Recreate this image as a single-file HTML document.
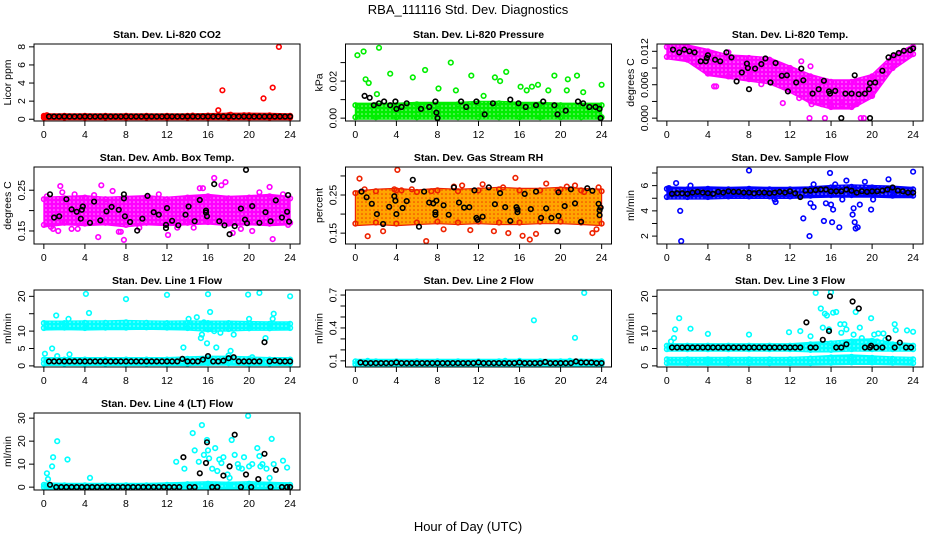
<!DOCTYPE html>
<html><head><meta charset="utf-8"><style>
body{margin:0;background:#fff;}
svg{display:block;font-family:"Liberation Sans",Arial,sans-serif;}
</style></head><body>
<svg id="chart" width="936" height="540" viewBox="0 0 936 540">
<text x="468" y="14" text-anchor="middle" font-size="13">RBA_111116  Std. Dev. Diagnostics</text>
<text x="468" y="531" text-anchor="middle" font-size="13">Hour of Day (UTC)</text>
</svg>
<script>
// ---------- data ----------
const hourTicks = [0,4,8,12,16,20,24];
const bandHours = [0,2,4,6,8,10,12,14,16,18,20,22,24];
const blackHours = [0.5,1,1.5,2,2.5,3,3.5,4,4.5,5,5.5,6,6.5,7,7.5,8,8.5,9,9.5,10,10.5,11,11.5,12,12.5,13,13.5,14,14.5,15,15.5,16,16.5,17,17.5,18,18.5,19,19.5,20,20.5,21,21.5,22,22.5,23,23.5,24];

// 1 CO2
const co2BandLo = [0.18,0.18,0.18,0.18,0.18,0.18,0.18,0.18,0.18,0.18,0.18,0.18,0.18];
const co2BandHi = [0.38,0.38,0.38,0.38,0.38,0.38,0.38,0.38,0.4,0.45,0.45,0.42,0.38];
const co2OutX = [0.1,17.0,17.4,18.2,21.4,22.3,22.9,19.5,14.5,0.3];
const co2OutY = [0.3,1.0,3.2,0.5,2.3,3.5,8.0,0.45,0.4,0.45];
const co2BlackY = [0.3,0.3,0.3,0.3,0.3,0.3,0.3,0.3,0.3,0.3,0.3,0.3,0.3,0.3,0.3,0.3,0.3,0.3,0.3,0.3,0.3,0.3,0.3,0.3,0.3,0.3,0.3,0.3,0.3,0.3,0.3,0.3,0.3,0.3,0.3,0.3,0.3,0.3,0.3,0.3,0.3,0.3,0.3,0.3,0.3,0.3,0.3,0.3];

// 2 Pressure
const presBandLo = [0.0005,0.0005,0.0005,0.0005,0.0005,0.0005,0.0005,0.0005,0.0005,0.0005,0.0005,0.0005,0.0005];
const presBandHi = [0.007,0.007,0.007,0.0075,0.0075,0.0075,0.008,0.008,0.0075,0.0075,0.007,0.007,0.007];
const presOutX = [0.2,0.8,1.0,1.3,2.3,2.1,3.4,5.6,6.8,8.1,9.3,9.8,11.3,12.5,13.6,14.1,14.7,16.1,16.7,17.2,17.8,18.8,19.4,20.6,20.7,21.6,22.2,24.0];
const presOutY = [0.034,0.036,0.021,0.019,0.038,0.013,0.024,0.022,0.026,0.016,0.030,0.015,0.023,0.012,0.022,0.020,0.025,0.017,0.015,0.017,0.018,0.015,0.023,0.015,0.021,0.023,0.014,0.018];
const presBlackX = [0.9,1.4,1.8,2.3,2.8,3.4,3.9,4.0,4.5,5.0,6.4,7.2,7.8,7.9,8.0,10.3,10.8,11.8,12.6,13.4,15.1,15.9,16.6,17.6,18.3,19.4,19.7,20.5,21.7,22.2,22.8,23.4,23.8,23.9];
const presBlackY = [0.012,0.011,0.007,0.008,0.009,0.007,0.009,0.005,0.006,0.008,0.005,0.006,0.009,0.003,0.0,0.009,0.006,0.009,0.002,0.008,0.010,0.008,0.006,0.007,0.009,0.007,0.002,0.004,0.009,0.008,0.006,0.006,0.005,0.0];

// 3 Li-820 Temp
const tempBandLo = [0.011,0.0105,0.008,0.0075,0.007,0.0065,0.005,0.003,0.002,0.002,0.004,0.009,0.0115];
const tempBandHi = [0.0128,0.0128,0.012,0.011,0.0108,0.0105,0.009,0.0075,0.0065,0.0065,0.0075,0.011,0.0128];
const tempOutX = [13.9,15.4,18.9,19.2,11.3,12.9,14.0,13.1,4.6,4.8,9.2,6.0,8.1,14.1,15.1,16.0,17.0,18.5];
const tempOutY = [0,0,0,0,0.0027,0.0036,0.0093,0.0102,0.0057,0.0057,0.0061,0.0118,0.0075,0.0025,0.0025,0.0025,0.0025,0.0025];
const tempBlackX = [0.6,1.2,1.7,2.2,2.7,3.3,3.8,3.9,4.0,4.7,5.2,5.8,6.3,6.8,7.3,7.8,7.9,8.0,8.6,9.2,9.6,10.1,10.6,11.2,11.7,11.8,12.6,13.1,13.3,14.2,14.8,15.3,15.8,15.9,16.4,17.0,17.4,18.0,18.3,18.7,19.3,19.7,19.8,19.8,20.3,21.0,21.6,22.1,22.6,23.1,23.7,24.0];
const tempBlackY = [0.0123,0.0118,0.0123,0.012,0.0118,0.0102,0.0102,0.0108,0.0113,0.0105,0.0102,0.0118,0.0109,0.0066,0.0082,0.0098,0.009,0.0052,0.0089,0.0097,0.0107,0.0064,0.0099,0.0076,0.0077,0.0048,0.0064,0.0089,0.0068,0.0044,0.0052,0.0067,0.0048,0.0044,0.0049,0,0.0044,0.0044,0.0077,0.0043,0.0044,0.0052,0.0063,0,0.0064,0.0085,0.0109,0.0113,0.0117,0.0121,0.0122,0.0125];

// 4 Amb Box Temp
const ambBandLo = [0.165,0.17,0.168,0.17,0.165,0.17,0.168,0.17,0.172,0.168,0.17,0.168,0.17];
const ambBandHi = [0.228,0.23,0.232,0.228,0.23,0.232,0.228,0.232,0.235,0.23,0.232,0.235,0.23];
const ambOutX = [0.3,0.7,0.9,1.4,1.6,2.7,3.0,3.3,5.3,5.6,6.7,7.3,7.5,7.8,9.3,10.2,12.1,13.0,14.6,15.2,15.5,16.6,17.3,17.7,18.4,19.2,20.3,21.0,22.0,22.3,23.3,23.8,1.8,4.9,11.2];
const ambOutY = [0.235,0.16,0.155,0.15,0.26,0.155,0.24,0.155,0.135,0.262,0.248,0.148,0.148,0.128,0.158,0.232,0.14,0.158,0.158,0.255,0.255,0.28,0.262,0.27,0.145,0.155,0.15,0.245,0.258,0.13,0.24,0.165,0.245,0.238,0.24];
const ambBlackX = [0.6,1.0,1.5,2.2,2.7,3.2,3.6,3.7,3.8,4.5,4.9,5.5,6.1,6.6,7.3,7.8,7.8,7.9,8.4,9.1,9.6,10.1,10.7,11.2,11.9,11.9,12.0,12.5,13.1,13.8,14.1,14.7,15.2,15.8,15.8,15.9,16.6,17.1,17.6,18.1,18.6,19.2,19.6,19.7,19.8,20.3,21.0,21.6,22.1,22.6,23.2,23.7,23.8,23.9];
const ambBlackY = [0.24,0.183,0.186,0.228,0.203,0.197,0.18,0.202,0.21,0.17,0.222,0.176,0.198,0.209,0.202,0.24,0.23,0.186,0.172,0.151,0.18,0.236,0.196,0.19,0.165,0.157,0.206,0.175,0.164,0.19,0.21,0.174,0.226,0.2,0.195,0.186,0.265,0.174,0.164,0.142,0.162,0.205,0.178,0.3,0.169,0.211,0.17,0.196,0.174,0.225,0.183,0.197,0.238,0.173];

// 5 Gas Stream RH
const rhBandLo = [0.175,0.178,0.175,0.178,0.18,0.178,0.18,0.178,0.178,0.18,0.18,0.178,0.175];
const rhBandHi = [0.255,0.26,0.262,0.258,0.262,0.26,0.262,0.265,0.262,0.262,0.265,0.262,0.26];
const rhOutX = [0.4,1.2,2.7,4.1,4.5,6.9,7.4,8.6,9.6,11.2,12.4,13.5,14.4,14.9,15.6,16.3,17.0,17.6,18.6,19.7,20.6,21.4,22.3,23.1,23.5,23.7,0.9,3.8,5.5,10.4];
const rhOutY = [0.293,0.142,0.155,0.316,0.262,0.129,0.26,0.16,0.272,0.158,0.278,0.155,0.27,0.15,0.295,0.143,0.133,0.148,0.28,0.262,0.272,0.275,0.258,0.15,0.16,0.27,0.265,0.265,0.265,0.275];
const rhBlackX = [0.6,1.1,1.6,2.1,2.7,3.3,3.8,3.9,4.0,4.6,5.0,5.6,6.2,6.7,7.2,7.6,7.8,7.8,7.9,8.6,9.1,9.6,10.1,10.6,11.1,11.6,11.8,11.9,12.4,13.0,13.6,14.1,14.6,15.1,15.7,15.8,15.8,16.5,17.1,17.6,18.1,18.6,19.1,19.7,19.8,19.8,20.4,21.0,21.4,22.0,22.6,23.1,23.7,23.8,23.8,23.9];
const rhBlackY = [0.259,0.244,0.227,0.2,0.174,0.219,0.247,0.235,0.2,0.216,0.234,0.29,0.167,0.259,0.23,0.228,0.205,0.198,0.235,0.223,0.198,0.27,0.23,0.217,0.218,0.262,0.19,0.185,0.193,0.27,0.226,0.255,0.218,0.182,0.218,0.205,0.212,0.253,0.213,0.259,0.19,0.215,0.19,0.155,0.195,0.257,0.221,0.265,0.228,0.18,0.268,0.261,0.227,0.197,0.21,0.217];

// 6 Sample Flow
const sfBandLo = [5.1,5.1,5.1,5.15,5.15,5.15,5.15,5.2,5.25,5.25,5.25,5.2,5.2];
const sfBandHi = [5.75,5.7,5.75,5.7,5.75,5.7,5.7,5.75,5.85,5.9,5.85,5.8,5.7];
const sfOutX = [0.2,0.9,1.3,1.4,2.3,8.0,10.5,10.6,13.3,13.9,14.0,14.3,15.3,15.5,15.9,16.0,16.1,16.2,16.8,17.1,17.5,18.1,18.2,18.3,18.4,18.6,18.8,19.3,19.9,20.1,21.6,24.0,14.3,16.4];
const sfOutY = [5.8,6.2,4.0,1.6,6.0,7.2,4.9,4.7,3.4,2.0,4.6,4.3,3.2,4.6,7.0,4.5,3.1,4.1,2.7,4.9,6.4,3.7,4.2,3.1,2.6,2.7,4.5,6.3,4.1,4.9,6.5,7.1,6.1,6.1];
const sfBlackY = [5.35,5.4,5.4,5.35,5.45,5.5,5.45,5.4,5.35,5.5,5.45,5.55,5.5,5.5,5.45,5.45,5.4,5.45,5.45,5.4,5.45,5.5,5.45,5.55,5.4,5.1,5.6,5.6,5.65,5.7,5.7,5.55,5.55,5.55,5.7,5.6,5.45,5.55,5.5,5.55,5.55,5.6,5.7,5.85,5.6,5.55,5.45,5.45];

// 7 Line 1 Flow
const l1BandLo = [10.9,11.0,10.9,11.0,11.0,11.1,11.0,10.9,10.5,10.6,10.8,10.8,10.9];
const l1BandHi = [12.3,12.3,12.4,12.4,12.5,12.4,12.3,12.4,12.3,12.3,12.2,12.1,12.1];
const l1Band2Lo = [0.7,0.7,0.7,0.7,0.7,0.7,0.7,0.7,0.8,0.8,0.7,0.7,0.7];
const l1Band2Hi = [1.8,1.8,1.8,1.8,1.8,1.8,1.8,2.0,2.2,2.2,2.0,1.8,1.8];
const l1OutX = [0.1,0.8,1.2,1.3,2.4,2.5,4.1,4.4,8.0,12.0,13.6,14.1,14.9,15.3,15.4,15.6,15.9,16.0,16.2,16.6,16.8,18.2,18.5,19.9,20.0,21.0,21.6,22.3,22.4,24.0,20.3,18.0,17.2];
const l1OutY = [3.5,5.0,14.5,2.8,13.5,3.3,20.7,15.2,19.2,20.4,5.3,13.5,14.0,8.0,9.0,12.5,6.5,20.6,15.5,10.0,5.3,4.3,9.0,20.5,13.5,21.0,8.0,13.5,15.0,20.0,2.5,3.0,9.5];
const l1BlackY = [1.3,1.3,1.3,1.3,1.3,1.3,1.3,1.3,1.3,1.3,1.3,1.3,1.3,1.3,1.3,1.3,1.3,1.3,1.3,1.3,1.3,1.3,1.3,1.3,1.3,1.3,2.0,1.3,1.3,1.3,1.8,2.8,1.3,1.3,1.5,2.2,2.5,1.3,1.3,1.3,1.3,1.3,6.8,1.3,1.5,1.3,1.3,1.3];

// 8 Line 2 Flow
const l2BandLo = [0.07,0.07,0.07,0.07,0.07,0.07,0.07,0.07,0.07,0.07,0.07,0.07,0.07];
const l2BandHi = [0.095,0.095,0.095,0.095,0.095,0.095,0.095,0.095,0.095,0.095,0.095,0.095,0.095];
const l2OutX = [17.4,21.4,22.3,20.9,1.2,14.6,16.0];
const l2OutY = [0.47,0.31,0.72,0.1,0.1,0.1,0.1];
const l2BlackY = [0.085,0.08,0.08,0.08,0.08,0.08,0.08,0.085,0.08,0.08,0.08,0.08,0.08,0.08,0.08,0.08,0.08,0.08,0.08,0.08,0.08,0.08,0.08,0.085,0.08,0.08,0.08,0.08,0.08,0.08,0.08,0.085,0.08,0.08,0.08,0.08,0.09,0.08,0.08,0.08,0.08,0.08,0.095,0.085,0.085,0.085,0.08,0.08];

// 9 Line 3 Flow
const l3BandLo = [0.8,0.8,0.8,0.8,0.8,0.8,0.8,0.8,0.9,1.0,1.0,0.9,0.8];
const l3BandHi = [1.9,1.9,1.9,1.9,1.9,1.9,1.9,2.1,2.4,2.6,2.3,2.0,1.9];
const l3Band2Lo = [4.8,4.8,4.8,4.8,4.8,4.8,4.8,4.6,4.6,4.8,4.8,4.8,4.8];
const l3Band2Hi = [5.8,5.8,5.8,5.8,5.8,5.8,5.8,6.2,6.5,7.0,7.2,6.2,5.8];
const l3OutX = [0.4,0.7,0.8,1.2,2.3,4.0,8.0,11.9,13.0,14.5,15.0,15.4,15.6,15.8,16.0,16.2,16.5,16.9,17.3,17.5,18.2,18.4,18.8,19.9,20.2,20.6,21.1,22.2,22.3,23.4,24.0,14.0,15.2,17.0,19.0,20.5,21.3];
const l3OutY = [7.0,8.0,10.5,13.7,10.7,9.2,9.0,9.7,10.0,21.0,16.5,15.0,14.5,10.5,21.2,15.3,15.5,12.0,12.0,10.5,9.0,15.5,11.0,13.7,9.0,9.3,9.3,12.0,10.3,10.2,9.8,8.5,11.0,9.5,8.0,7.0,7.5];
const l3BlackX = [0.5,1.0,1.5,2.0,2.5,3.0,3.5,4.0,4.5,5.0,5.5,6.0,6.5,7.0,7.5,8.0,8.5,9.0,9.5,10.0,10.5,11.0,11.5,12.0,12.5,13.0,13.6,14.0,14.5,15.2,15.8,15.9,16.5,17.0,17.5,18.1,18.7,19.3,19.8,19.9,20.4,21.0,21.6,22.2,22.7,23.3,23.8];
const l3BlackY = [5.3,5.3,5.3,5.3,5.3,5.3,5.3,5.3,5.3,5.3,5.3,5.3,5.3,5.3,5.3,5.3,5.3,5.3,5.3,5.3,5.3,5.3,5.3,5.3,5.3,5.3,12.5,5.3,5.3,7.5,10.0,20.0,5.3,5.3,6.2,18.5,16.5,5.3,5.3,5.8,5.3,5.3,8.0,5.3,6.7,5.3,5.3];

// 10 Line 4 (LT) Flow
const l4BandLo = [0,0,0,0,0,0,0,0,0,0,0,0,0];
const l4BandHi = [1.0,0.8,0.8,0.8,0.8,0.8,1.0,1.3,1.5,1.3,1.5,1.3,1.0];
const l4OutX = [0.3,0.4,0.8,0.9,1.3,2.3,4.5,12.9,13.7,14.5,14.7,15.1,15.4,15.6,15.9,16.1,16.4,16.7,16.9,17.1,17.5,17.9,18.3,18.6,18.9,19.3,19.5,19.9,20.3,20.8,21.0,21.3,21.7,22.2,22.4,23.3,23.7,16.0,17.3,18.1,19.0,20.0,21.1,22.0];
const l4OutY = [6.0,3.5,9.0,13.0,20.0,12.0,4.0,11.0,8.0,23.5,16.0,11.0,27.0,14.0,20.5,12.5,8.0,17.0,7.0,12.0,13.0,5.5,20.5,14.0,10.0,8.0,13.0,31.0,10.0,17.0,13.5,10.0,8.0,21.0,10.0,11.5,8.5,16.0,10.5,4.0,8.5,9.0,9.0,4.0];
const l4BlackX = [0.6,1.2,1.7,2.2,2.7,3.2,3.7,4.2,4.7,5.2,5.7,6.2,6.7,7.2,7.7,8.2,8.7,9.2,9.7,10.2,10.7,11.2,11.7,12.2,12.7,13.2,13.6,14.2,14.7,15.2,15.8,15.9,16.4,16.9,17.5,18.1,18.6,19.2,19.7,20.2,20.9,21.5,22.1,22.6,23.2,23.7,24.0];
const l4BlackY = [1.0,0,0,0,0,0,0,0,0,0,0,0,0,0,0,0,0,0,0,0,0,0,0,0,0,0,13.0,0,0,6.0,10.5,19.5,0,0,5.0,9.0,22.8,0,5.5,0,3.5,14.5,0,7.5,0,0,0];

// ---------- drawing ----------
const svg = document.getElementById('chart');
const NS = 'http://www.w3.org/2000/svg';
function mk(tag, attrs){ const e = document.createElementNS(NS, tag); for (const k in attrs) e.setAttribute(k, attrs[k]); return e; }
const defs = mk('defs', {});
svg.appendChild(defs);
const patterns = {};
function patternFor(color, edge){
  const key = color + (edge || '');
  if (patterns[key]) return patterns[key];
  const id = 'pat' + Object.keys(patterns).length;
  const pat = mk('pattern', {id:id, width:4, height:4, patternUnits:'userSpaceOnUse'});
  pat.appendChild(mk('rect', {x:0, y:0, width:4, height:4, fill:color}));
  pat.appendChild(mk('circle', {cx:2, cy:2, r:0.8, fill: edge ? edge : '#ffffff', opacity: edge ? 0.8 : 0.6}));
  defs.appendChild(pat);
  patterns[key] = 'url(#' + id + ')';
  return patterns[key];
}

const panelDefs = [
 {id:'co2',title:'Stan. Dev. Li-820 CO2',yl:'Licor ppm',col:0,row:0,ylim:[0.12,8.0],ticks:[0,2,4,6,8],labels:['0','2','4','6','8'],color:'#ff0000',bands:[[co2BandLo,co2BandHi]],outX:co2OutX,outY:co2OutY,bX:blackHours,bY:co2BlackY},
 {id:'pressure',title:'Stan. Dev. Li-820 Pressure',yl:'kPa',col:1,row:0,ylim:[0,0.0385],ticks:[0,0.01,0.02,0.03],labels:['0.00','','0.02',''],color:'#00ee00',bands:[[presBandLo,presBandHi]],outX:presOutX,outY:presOutY,bX:presBlackX,bY:presBlackY},
 {id:'li820-temp',title:'Stan. Dev. Li-820 Temp.',yl:'degrees C',col:2,row:0,ylim:[0,0.0128],ticks:[0,0.003,0.006,0.009,0.012],labels:['0.000','','0.006','','0.012'],color:'#ff00ff',bands:[[tempBandLo,tempBandHi]],outX:tempOutX,outY:tempOutY,bX:tempBlackX,bY:tempBlackY},
 {id:'amb-box-temp',title:'Stan. Dev. Amb. Box Temp.',yl:'degrees C',col:0,row:1,ylim:[0.125,0.30],ticks:[0.15,0.2,0.25],labels:['0.15','','0.25'],color:'#ff00ff',bands:[[ambBandLo,ambBandHi]],outX:ambOutX,outY:ambOutY,bX:ambBlackX,bY:ambBlackY},
 {id:'gas-stream-rh',title:'Stan. Dev. Gas Stream RH',yl:'percent',col:1,row:1,ylim:[0.129,0.316],ticks:[0.15,0.2,0.25,0.3],labels:['0.15','','0.25',''],color:'#ffa500',edge:'#ee2200',bands:[[rhBandLo,rhBandHi]],outX:rhOutX,outY:rhOutY,bX:rhBlackX,bY:rhBlackY},
 {id:'sample-flow',title:'Stan. Dev. Sample Flow',yl:'ml/min',col:2,row:1,ylim:[1.6,7.25],ticks:[2,3,4,5,6,7],labels:['2','','4','','6',''],color:'#0000ff',bands:[[sfBandLo,sfBandHi]],outX:sfOutX,outY:sfOutY,bX:blackHours,bY:sfBlackY},
 {id:'line1-flow',title:'Stan. Dev. Line 1 Flow',yl:'ml/min',col:0,row:2,ylim:[0.5,21],ticks:[0,5,10,15,20],labels:['0','5','10','','20'],color:'#00ffff',bands:[[l1BandLo,l1BandHi],[l1Band2Lo,l1Band2Hi]],outX:l1OutX,outY:l1OutY,bX:blackHours,bY:l1BlackY},
 {id:'line2-flow',title:'Stan. Dev. Line 2 Flow',yl:'ml/min',col:1,row:2,ylim:[0.07,0.72],ticks:[0.1,0.2,0.3,0.4,0.5,0.6,0.7],labels:['0.1','','','0.4','','','0.7'],color:'#00ffff',bands:[[l2BandLo,l2BandHi]],outX:l2OutX,outY:l2OutY,bX:blackHours,bY:l2BlackY},
 {id:'line3-flow',title:'Stan. Dev. Line 3 Flow',yl:'ml/min',col:2,row:2,ylim:[0.5,21],ticks:[0,5,10,15,20],labels:['0','5','10','','20'],color:'#00ffff',bands:[[l3BandLo,l3BandHi],[l3Band2Lo,l3Band2Hi]],outX:l3OutX,outY:l3OutY,bX:l3BlackX,bY:l3BlackY},
 {id:'line4-flow',title:'Stan. Dev. Line 4 (LT) Flow',yl:'ml/min',col:0,row:3,ylim:[0,31],ticks:[0,10,20,30],labels:['0','10','20','30'],color:'#00ffff',bands:[[l4BandLo,l4BandHi]],outX:l4OutX,outY:l4OutY,bX:l4BlackX,bY:l4BlackY}
];

function drawPanel(p){
  const L = 34 + p.col*311.5, T = 44 + p.row*123, W = 266, H = 77;
  const g = mk('g', {});
  
  
  svg.appendChild(g);
  const xs = h => L + W*(0.04 + h/24)/1.08;
  const ys = v => T + H - H*(0.04 + (v - p.ylim[0])/(p.ylim[1]-p.ylim[0]))/1.08;
  const clipId = 'clip-' + p.id;
  const cp = mk('clipPath', {id: clipId});
  cp.appendChild(mk('rect', {x:L, y:T, width:W, height:H}));
  g.appendChild(cp);
  const data = mk('g', {'clip-path':'url(#' + clipId + ')'});
  
  
  g.appendChild(data);

  function pt(x, y, color, name){
    const c = mk('circle', {cx:xs(x).toFixed(1), cy:ys(y).toFixed(1), r:2.3, fill:'none', stroke:color, 'stroke-width':1.6});
    
    
    data.appendChild(c);
  }
  const fill = patternFor(p.color, p.edge);
  p.bands.forEach((b, bi) => {
    const lo = b[0], hi = b[1];
    let d = '';
    bandHours.forEach((h, i) => { d += (i ? 'L' : 'M') + xs(h).toFixed(1) + ' ' + (ys(hi[i]) - 2).toFixed(1); });
    for (let i = bandHours.length - 1; i >= 0; i--) d += 'L' + xs(bandHours[i]).toFixed(1) + ' ' + (ys(lo[i]) + 2).toFixed(1);
    const band = mk('path', {d: d + 'Z', fill: fill, stroke: p.edge || p.color, 'stroke-width': 1.2});
    
    
    data.appendChild(band);
    bandHours.forEach((h, i) => {
      pt(h, hi[i], p.edge || p.color, 'band-point');
      pt(h, lo[i], p.edge || p.color, 'band-point');
    });
  });
  p.outX.forEach((x, i) => pt(x, p.outY[i], p.edge || p.color, 'point'));
  p.bX.forEach((x, i) => pt(x, p.bY[i], '#000000', 'point-black'));

  const box = mk('rect', {x:L, y:T, width:W, height:H, fill:'none', stroke:'#000', 'stroke-width':1});
  
  
  g.appendChild(box);
  const xa = mk('g', {});
  
  
  g.appendChild(xa);
  xa.appendChild(mk('line', {x1:xs(0), x2:xs(24), y1:T+H, y2:T+H, stroke:'#000'}));
  hourTicks.forEach(h => {
    xa.appendChild(mk('line', {x1:xs(h), x2:xs(h), y1:T+H, y2:T+H+5, stroke:'#000'}));
    const t = mk('text', {x:xs(h), y:T+H+17, 'text-anchor':'middle', 'font-size':10.5});
    t.textContent = h;
    
    
    xa.appendChild(t);
  });
  const ya = mk('g', {});
  
  
  g.appendChild(ya);
  p.ticks.forEach((v, i) => {
    const y = ys(v);
    if (y < T - 1 || y > T + H + 1) return;
    ya.appendChild(mk('line', {x1:L-5, x2:L, y1:y, y2:y, stroke:'#000'}));
    if (p.labels[i]) {
      const t = mk('text', {x:0, y:0, 'text-anchor':'middle', 'font-size':10.5, transform:'translate(' + (L-9) + ',' + y + ') rotate(-90)'});
      t.textContent = p.labels[i];
      
      
      ya.appendChild(t);
    }
  });
  const yt = mk('text', {x:0, y:0, 'text-anchor':'middle', 'font-size':10.5, transform:'translate(' + (L-23) + ',' + (T+H/2) + ') rotate(-90)'});
  yt.textContent = p.yl;
  
  
  g.appendChild(yt);
  const tt = mk('text', {x:L+W/2, y:T-6, 'text-anchor':'middle', 'font-size':10.5, 'font-weight':'bold'});
  tt.textContent = p.title;
  
  
  g.appendChild(tt);
}
panelDefs.forEach(drawPanel);
</script>
</body></html>
